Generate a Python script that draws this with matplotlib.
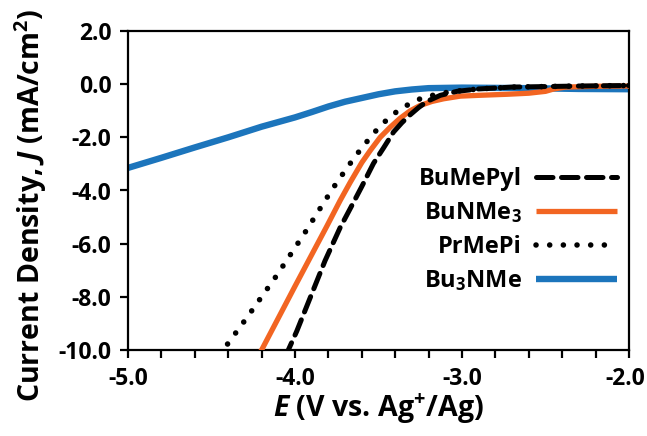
import matplotlib
matplotlib.use("Agg")
import matplotlib.pyplot as plt
import matplotlib.transforms as mtransforms
from matplotlib.ticker import MultipleLocator, FormatStrFormatter

plt.rcParams['font.family'] = ['Open Sans', 'DejaVu Sans']
plt.rcParams['font.weight'] = 'bold'
plt.rcParams['mathtext.fontset'] = 'custom'
plt.rcParams['mathtext.rm'] = 'Open Sans:bold'
plt.rcParams['mathtext.bf'] = 'Open Sans:bold'
plt.rcParams['mathtext.it'] = 'Open Sans:bold:italic'
plt.rcParams['axes.unicode_minus'] = False

# Linear sweep voltammograms (E in V vs. Ag+/Ag, J in mA/cm^2)
labels = ["BuMePyl", "BuNMe$_3$", "PrMePi", "Bu$_3$NMe"]

e_bumepyl = [-4.06, -4.04, -3.99, -3.82, -3.73, -3.65, -3.60, -3.53, -3.47, -3.41,
             -3.36, -3.31, -3.26, -3.21, -3.13, -3.03, -2.90, -2.70, -2.30, -2.00]
j_bumepyl = [-10.3, -10.0, -9.30, -6.64, -5.40, -4.45, -3.85, -2.98, -2.40, -1.80,
             -1.45, -1.15, -0.88, -0.65, -0.42, -0.27, -0.18, -0.11, -0.07, -0.05]

e_bunme3 = [-4.22, -4.20, -4.00, -3.81, -3.73, -3.67, -3.60, -3.55, -3.49, -3.43,
            -3.37, -3.31, -3.25, -3.18, -3.11, -3.01, -2.90, -2.73, -2.60, -2.50,
            -2.45, -2.38, -2.20, -2.00]
j_bunme3 = [-10.2, -10.0, -7.60, -5.35, -4.38, -3.70, -2.95, -2.50, -2.00, -1.62,
            -1.28, -1.00, -0.80, -0.65, -0.55, -0.45, -0.42, -0.38, -0.34, -0.27,
            -0.18, -0.11, -0.08, -0.07]

e_prmepi = [-4.45, -4.43, -4.29, -4.11, -3.94, -3.82, -3.75, -3.64, -3.53, -3.46,
            -3.39, -3.31, -3.25, -3.17, -3.09, -3.00, -2.90, -2.70, -2.30, -2.00]
j_prmepi = [-10.2, -10.0, -8.80, -7.20, -5.58, -4.38, -3.70, -2.72, -1.85, -1.40,
            -1.03, -0.72, -0.55, -0.41, -0.31, -0.24, -0.18, -0.11, -0.07, -0.05]

e_bu3nme = [-5.00, -4.80, -4.60, -4.40, -4.20, -4.00, -3.90, -3.80, -3.70, -3.60,
            -3.50, -3.40, -3.30, -3.20, -3.00, -2.60, -2.30, -2.00]
j_bu3nme = [-3.15, -2.77, -2.38, -2.00, -1.60, -1.25, -1.05, -0.84, -0.66, -0.52,
            -0.38, -0.27, -0.20, -0.15, -0.13, -0.15, -0.18, -0.19]

orange = "#F26522"
blue = "#1C75BC"

fig = plt.figure(figsize=(6.47, 4.36), dpi=100)
ax = fig.add_axes([128 / 647, 1 - 350 / 436, (629 - 128) / 647, (350 - 31) / 436])

ax.plot(e_bu3nme, j_bu3nme, color=blue, lw=4.6, solid_capstyle='butt',
        solid_joinstyle='round', label=labels[3], zorder=2)
ax.plot(e_bunme3, j_bunme3, color=orange, lw=3.8, solid_capstyle='butt',
        solid_joinstyle='round', label=labels[1], zorder=3)
ax.plot(e_prmepi, j_prmepi, color="black", lw=4.0, dashes=(0.01, 2.45),
        dash_capstyle='round', label=labels[2], zorder=4)
ax.plot(e_bumepyl, j_bumepyl, color="black", lw=3.6, dashes=(3.3, 1.7),
        dash_capstyle='round', label=labels[0], zorder=5)

ax.set_xlim(-5.0, -2.0)
ax.set_ylim(-10.0, 2.0)
ax.xaxis.set_major_locator(MultipleLocator(1.0))
ax.xaxis.set_minor_locator(MultipleLocator(0.2))
ax.yaxis.set_major_locator(MultipleLocator(2.0))
ax.xaxis.set_major_formatter(FormatStrFormatter('%.1f'))
ax.yaxis.set_major_formatter(FormatStrFormatter('%.1f'))

for s in ax.spines.values():
    s.set_linewidth(1.6)
ax.tick_params(axis='both', which='both', direction='out', width=1.6, length=6,
               labelsize=16.5, pad=6)

ax.set_xlabel("$E$ (V vs. Ag$^{+}$/Ag)", fontsize=20.5, fontweight='bold', labelpad=1)
ax.set_ylabel("Current Density, $J$ (mA/cm$^2$)", fontsize=20.5, fontweight='bold')
ax.yaxis.set_label_coords(-0.158, 0.455)

handles, labs = ax.get_legend_handles_labels()
order = [labels.index(l) for l in labs]
pairs = sorted(zip(order, handles, labs))
leg = ax.legend([p[1] for p in pairs], [p[2] for p in pairs],
                loc='lower right', bbox_to_anchor=(0.994, 0.148),
                frameon=False, markerfirst=False, fontsize=17,
                handlelength=3.4, handletextpad=0.6, labelspacing=0.4,
                borderaxespad=0.0)

# nudge the right-most x tick label so it stays on the canvas
fig.canvas.draw()
for lab in ax.get_xticklabels():
    if lab.get_text() == '-2.0':
        lab.set_transform(lab.get_transform() +
                          mtransforms.ScaledTranslation(-4 / 100, 0,
                                                        fig.dpi_scale_trans))

fig.savefig("out.png", dpi=100)
